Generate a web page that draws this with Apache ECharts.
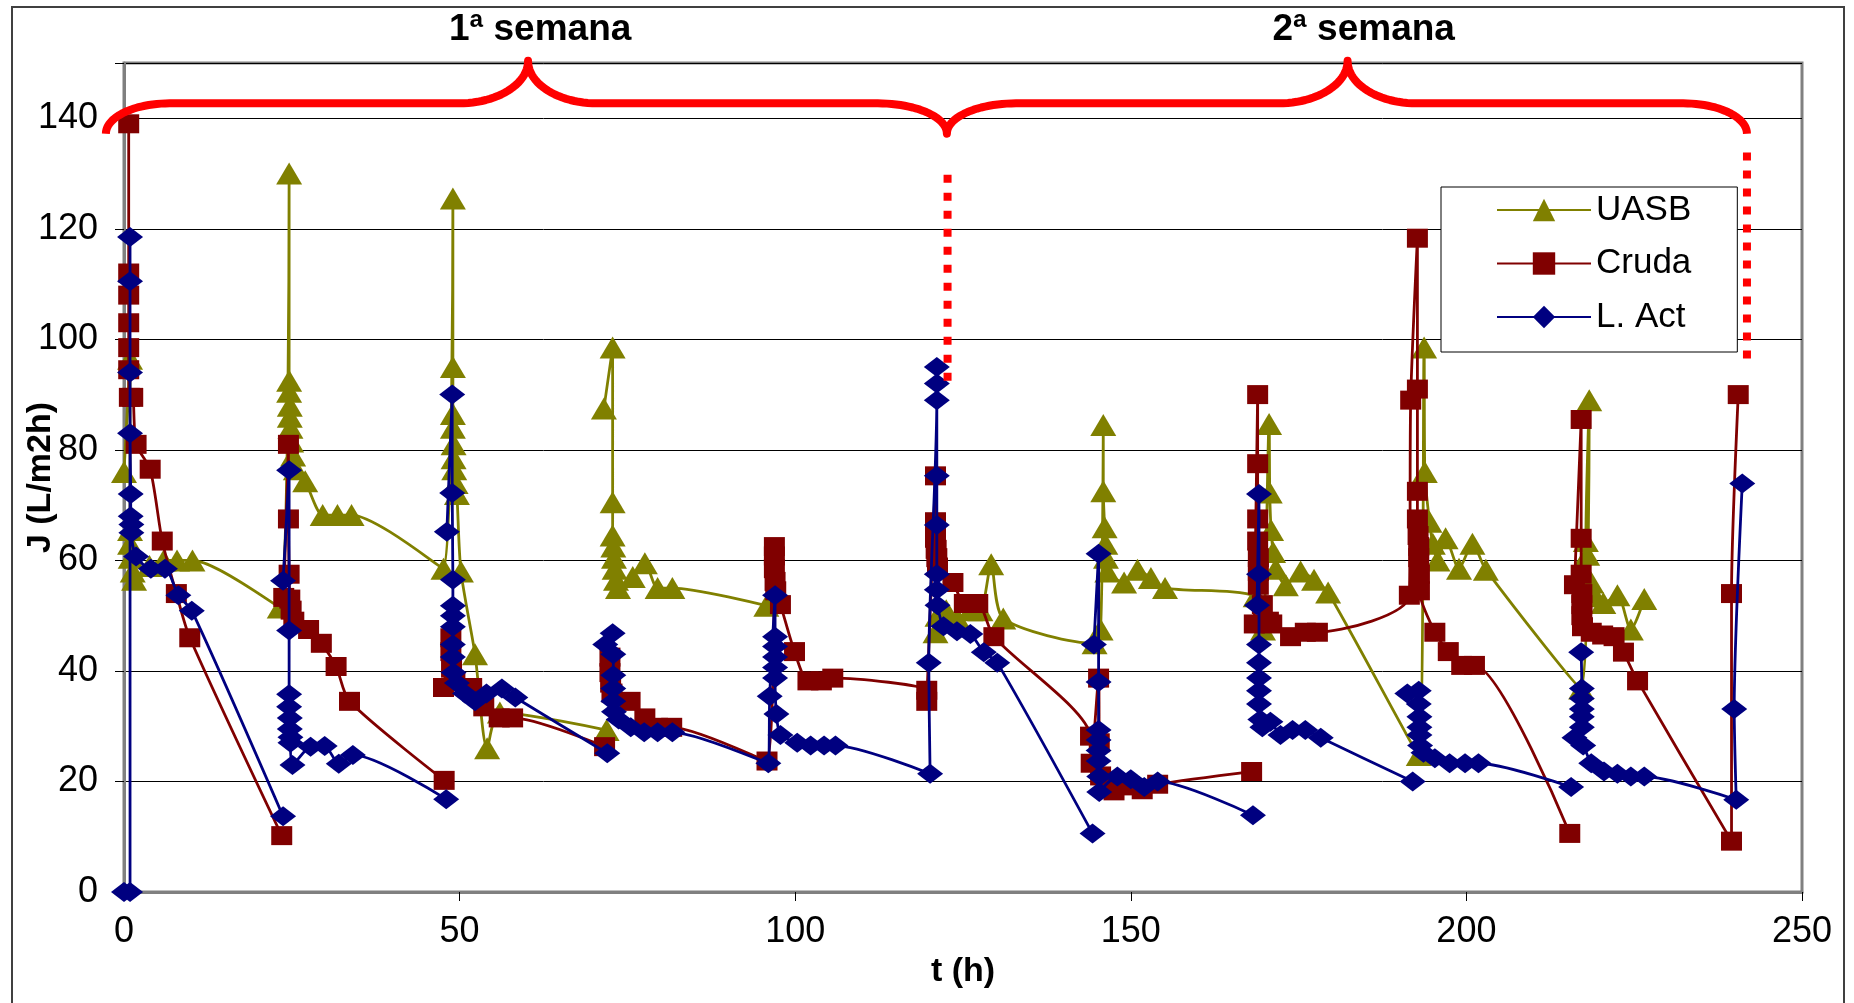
<!DOCTYPE html>
<html>
<head>
<meta charset="utf-8">
<script src="https://cdn.jsdelivr.net/npm/echarts@6/dist/echarts.min.js"></script>
<style>
  html, body { margin: 0; padding: 0; background: #fff; }
  #chart { width: 1854px; height: 1003px; }
</style>
</head>
<body>
<div id="chart"></div>
<script>
// Flux J (L/m2h) vs time t (h) for three feeds; null marks a break between filtration runs.
const seriesNames = ['UASB', 'Cruda', 'L. Act'];

const uasb = [
  [0, 76], [0.9, 96.5], [0.9, 65.5], [0.9, 63], [1.0, 60.5], [1.3, 58], [1.5, 56.5], [3.8, 59], [5.9, 60], [7.9, 60], [10.2, 60], [23.2, 51.5],
  [24.6, 130], [24.6, 92.5], [24.6, 90.5], [24.7, 88], [24.7, 86], [24.8, 84], [24.9, 81.5], [25.2, 79], [25.6, 76.5], [27.0, 74.3], [29.6, 68.2], [31.8, 68.2], [33.9, 68.2], [47.6, 58.5],
  [49.0, 125.5], [49.0, 95], [49.0, 86.5], [49.0, 84], [49.1, 81], [49.1, 78.5], [49.2, 76.5], [49.4, 74], [49.6, 72], [50.2, 58], [52.3, 43], [54.1, 26], [56.0, 32.5], [71.9, 29.3],
  null,
  [71.5, 87.5], [72.8, 98.5], [72.8, 70.5], [72.8, 64.5], [72.9, 62.5], [73.0, 60.5], [73.1, 58.5], [73.3, 56.5], [73.6, 55], [75.8, 57], [77.6, 59.5], [79.5, 55], [81.7, 55], [95.7, 51.8],
  null,
  [120.9, 47], [121.2, 50], [122.5, 51], [124.2, 49.5], [126.1, 51], [127.6, 51], [129.2, 59.3], [131.0, 49.5], [144.6, 45],
  [145.5, 47.5], [145.9, 84.5], [145.9, 72.5], [146.1, 66], [146.2, 63], [146.3, 60.5], [146.5, 58], [149.0, 56], [151.0, 58.3], [153.0, 56.8], [155.1, 55], [168.6, 53.5],
  [169.7, 47.5], [170.6, 84.7], [170.7, 72.3], [170.9, 65.5], [171.2, 61.5], [171.6, 58.5], [173.1, 55.5], [175.3, 58], [177.3, 56.5], [179.4, 54.2], [192.9, 24.8],
  [193.7, 98.5], [193.8, 76], [194.5, 67], [195.0, 63], [195.7, 60], [196.9, 64], [198.9, 58.5], [200.9, 63], [202.9, 58.3], [217.1, 36.8],
  [218.3, 89], [217.8, 63.5], [218.0, 61], [218.6, 56], [219.2, 53.5], [220.4, 52.3], [222.5, 53.7], [224.5, 47.5], [226.5, 53]
];

const cruda = [
  [0.7, 139], [0.7, 112], [0.7, 108], [0.7, 103], [0.7, 98.5], [0.7, 94.5], [0.8, 89.5], [1.3, 89.5], [1.8, 81], [3.9, 76.5], [5.7, 63.5], [7.8, 54], [9.8, 46], [23.5, 10.2],
  null,
  [23.8, 53.3], [24.5, 81], [24.5, 67.5], [24.6, 57.5], [24.7, 53], [24.9, 51], [25.3, 49], [27.5, 47.5], [29.4, 45], [31.6, 40.8], [33.6, 34.5], [47.7, 20.2],
  null,
  [47.6, 37], [48.7, 46], [48.7, 43.5], [48.8, 40.5], [49.3, 38], [51.8, 37], [53.6, 33.5], [55.9, 31.5], [57.9, 31.5], [71.6, 26.3],
  null,
  [72.4, 42.5], [72.4, 39.7], [72.5, 37.8], [72.7, 36], [75.4, 34.5], [77.6, 31.5], [79.5, 29.8], [81.6, 29.8], [95.8, 23.7],
  [96.9, 62.5], [96.9, 60.8], [96.9, 58.5], [97.0, 56.2], [97.1, 54.5], [97.8, 52], [99.9, 43.5], [101.9, 38.2], [103.9, 38.2], [105.6, 38.7], [119.6, 36.5], [119.6, 34.5],
  [120.9, 75.3], [120.9, 67], [120.9, 64], [121.0, 62], [121.1, 60.5], [121.2, 58.8], [123.5, 56], [125.2, 52.2], [127.2, 52.2], [129.6, 46.2], [144.0, 28.2],
  [144.1, 23.3], [145.2, 38.7], [145.3, 27], [145.5, 21], [147.5, 18.3], [149.8, 19.2], [151.7, 18.5], [154.0, 19.5], [168.0, 21.8],
  null,
  [168.4, 48.5], [168.9, 90], [168.9, 77.5], [168.9, 67.5], [168.9, 63.5], [169.0, 60.5], [169.0, 58], [169.0, 55.5], [169.6, 52], [170.5, 49], [171.0, 48.5], [173.8, 46.2], [176.0, 47], [177.8, 47], [191.5, 53.7],
  [191.7, 89], [192.7, 118.3], [192.7, 91], [192.7, 72.5], [192.7, 67.5], [192.8, 64.5], [192.9, 62.5], [192.9, 60.5], [193.0, 57.5], [193.0, 54.5], [195.3, 47], [197.3, 43.5], [199.3, 41], [201.2, 41], [215.4, 10.6],
  null,
  [216.1, 55.6], [217.1, 85.5], [217.1, 64], [217.1, 57.5], [217.2, 54], [217.2, 52], [217.2, 50], [217.3, 48], [218.6, 47], [220.3, 46.5], [222.0, 46.2], [223.4, 43.4], [225.5, 38.2], [239.5, 9.2], [239.5, 54], [240.5, 90]
];

const lAct = [
  [0, 0], [0.9, 0], [0.9, 118.5], [0.9, 110.5], [0.9, 94], [0.9, 83], [1.0, 72], [1.0, 68], [1.1, 66.5], [1.1, 65], [1.8, 60.7], [4.0, 58.5], [6.1, 58.5], [8.1, 53.7], [10.1, 50.9], [23.7, 13.7],
  null,
  [23.7, 56.3], [24.6, 76.3], [24.6, 47.3], [24.6, 35.8], [24.6, 33.5], [24.7, 31.5], [24.7, 29.5], [24.8, 28], [24.8, 27], [25.1, 23], [27.8, 26.3], [29.9, 26.4], [32.0, 23.2], [34.1, 24.8], [48.0, 16.8],
  null,
  [48.1, 65.2], [48.9, 90], [48.9, 72.2], [49.0, 56.5], [49.0, 51.8], [49.0, 50], [49.0, 48], [49.0, 44.8], [49.0, 42.5], [49.1, 39.7], [49.6, 37.8], [50.8, 35.9], [52.3, 34.5], [54.0, 35.9], [56.3, 36.8], [58.3, 35.2], [72.0, 25.1],
  null,
  [71.7, 44.8], [72.8, 46.8], [72.9, 43], [72.9, 39.2], [72.9, 36.8], [72.9, 34.5], [73.0, 32.6], [73.7, 31.2], [75.5, 29.8], [77.5, 28.9], [79.5, 28.9], [81.7, 28.9], [96.0, 23.3],
  [96.2, 35.4], [97.0, 53.7], [97.0, 46.2], [97.0, 44.4], [97.0, 42.5], [97.0, 40.6], [97.0, 38.7], [97.2, 32.2], [97.8, 28.4], [100.3, 27], [102.3, 26.5], [104.3, 26.5], [106.0, 26.5], [120.1, 21.4],
  [119.9, 41.5], [121.1, 89], [121.1, 92], [121.1, 95], [121.1, 75.3], [121.1, 66.4], [121.1, 57.5], [121.1, 54.7], [121.2, 51.9], [122.1, 48.1], [124.1, 47.2], [126.1, 46.7], [128.1, 43.4], [130.1, 41.5], [144.3, 10.6],
  null,
  [144.5, 44.8], [145.2, 61.2], [145.2, 38], [145.2, 29.3], [145.2, 27.5], [145.2, 25.6], [145.2, 23.7], [145.3, 20.9], [145.3, 18.1], [148.0, 20.9], [150.0, 20.4], [152.0, 19], [154.0, 20], [168.2, 13.9],
  null,
  [168.8, 51.9], [169.1, 72], [169.1, 57.5], [169.1, 44.8], [169.1, 41.5], [169.1, 38.7], [169.1, 36.4], [169.1, 34], [169.3, 31.2], [169.6, 29.8], [170.8, 30.8], [172.3, 28.4], [174.1, 29.3], [176.0, 29.3], [178.3, 27.9], [192.0, 20],
  null,
  [191.2, 35.9], [192.9, 36.4], [192.9, 34], [193.0, 31.7], [193.0, 29.8], [193.0, 28.4], [193.1, 26.5], [193.6, 25.2], [195.3, 24.2], [197.5, 23.3], [199.8, 23.3], [201.8, 23.3], [215.6, 19],
  null,
  [217.1, 43.4], [217.2, 36.8], [217.2, 35], [217.2, 33.1], [217.2, 31.7], [217.2, 29.8], [216.1, 27.9], [217.4, 26.5], [218.6, 23.3], [220.5, 21.8], [222.5, 21.4], [224.5, 20.9], [226.5, 20.9], [240.2, 16.7], [239.9, 33.1], [241.1, 73.9]
];

// Axis ranges and tick steps
const tRange = [0, 250];
const tStep = 50;
const jRange = [0, 150];
const jStep = 20;

// Week annotation: brace ends / cusp and label positions, in (t, J) units
const weekLabels = ['1ª semana', '2ª semana'];
const weekLabelT = [62, 184.7];
const braceEndT = [-2.7, 122.6, 241.8];
const bracePeakT = [60.2, 182.3];
const dividerT = [122.7, 241.8];
const dividerSpans = [[129.8, 92.3], [133.8, 96.1]];

const FONT = 'Liberation Sans, Arial, sans-serif';
const colors = ['#808000', '#800000', '#000080'];
const symbols = ['triangle', 'rect', 'diamond'];
const symbolSizes = [[26, 22], [21, 19], [26, 20]];

const gapToEmpty = arr => arr.map(p => (p === null ? ['-', '-'] : p));

const chart = echarts.init(document.getElementById('chart'), null, { renderer: 'canvas' });

chart.setOption({
  animation: false,
  backgroundColor: '#fff',
  textStyle: { fontFamily: FONT, color: '#000' },
  grid: {
    left: 124, right: 52, top: 63, bottom: 111,
    outerBoundsMode: 'none', containLabel: false,
    show: true, borderColor: '#808080', borderWidth: 3, backgroundColor: '#fff'
  },
  legend: {
    data: seriesNames,
    orient: 'vertical',
    left: 1441, top: 187,
    padding: [5, 46, 17, 55],
    itemWidth: 94, itemHeight: 28, itemGap: 17.5,
    backgroundColor: '#fff', borderColor: '#000', borderWidth: 1,
    textStyle: { fontSize: 35, lineHeight: 36, color: '#000', fontFamily: FONT }
  },
  xAxis: {
    type: 'value', min: tRange[0], max: tRange[1], interval: tStep,
    name: 't (h)', nameLocation: 'middle', nameGap: 62,
    nameTextStyle: { fontSize: 34, fontWeight: 'bold', color: '#000', fontFamily: FONT },
    axisLine: { show: true, lineStyle: { color: '#808080', width: 3 } },
    axisTick: { show: true, inside: false, length: 9, lineStyle: { color: '#000', width: 1 } },
    axisLabel: { fontSize: 36, color: '#000', margin: 22, fontFamily: FONT },
    splitLine: { show: false }
  },
  yAxis: {
    type: 'value', min: jRange[0], max: jRange[1], interval: jStep,
    name: 'J (L/m2h)', nameLocation: 'middle', nameGap: 66, nameMoveOverlap: false,
    nameTextStyle: { fontSize: 34, fontWeight: 'bold', color: '#000', fontFamily: FONT },
    axisLine: { show: true, lineStyle: { color: '#808080', width: 3 } },
    axisTick: { show: true, inside: false, length: 9, lineStyle: { color: '#000', width: 1 } },
    axisLabel: {
      fontSize: 36, color: '#000', margin: 26, fontFamily: FONT,
      formatter: v => (v % jStep === 0 ? String(v) : '')
    },
    splitLine: { show: true, lineStyle: { color: '#000', width: 1 } }
  },
  series: [uasb, cruda, lAct].map((data, i) => ({
    name: seriesNames[i],
    type: 'line',
    data: gapToEmpty(data),
    connectNulls: false,
    smooth: 0.25,
    symbol: symbols[i],
    symbolSize: symbolSizes[i],
    showAllSymbol: true,
    lineStyle: { color: colors[i], width: 2.8 },
    itemStyle: { color: colors[i], borderWidth: 0 },
    emphasis: { disabled: true },
    z: 2 + i
  }))
});

// Curly brace and dotted dividers above the plot, placed from (t, J) values
const px = (t, j) => chart.convertToPixel({ gridIndex: 0 }, [t, j]);
const K = 0.5523;
const J_BASE = 142.7, J_PEAK = 150.4, J_TIP = 137.2;
const END_W = 9.5, CUSP_W = 10.3;

function sampleBezier(p0, c1, c2, p3, out) {
  const n = 24;
  for (let k = 1; k <= n; k++) {
    const s = k / n, r = 1 - s;
    out.push([
      r * r * r * p0[0] + 3 * r * r * s * c1[0] + 3 * r * s * s * c2[0] + s * s * s * p3[0],
      r * r * r * p0[1] + 3 * r * r * s * c1[1] + 3 * r * s * s * c2[1] + s * s * s * p3[1]
    ]);
  }
}
// horizontal tangent at a, vertical tangent at b
function hv(a, b, out) {
  sampleBezier(a, [a[0] + K * (b[0] - a[0]), a[1]], [b[0], b[1] + K * (a[1] - b[1])], b, out);
}
// vertical tangent at a, horizontal tangent at b
function vh(a, b, out) {
  sampleBezier(a, [a[0], a[1] + K * (b[1] - a[1])], [b[0] + K * (a[0] - b[0]), b[1]], b, out);
}

function bracePoints() {
  const pts = [];
  const p0 = px(braceEndT[0], J_TIP);
  const p1 = px(braceEndT[0] + END_W, J_BASE);
  pts.push(p0);
  vh(p0, p1, pts);
  const cusp = (t, jTip) => {
    const a = px(t - CUSP_W, J_BASE), m = px(t, jTip), b = px(t + CUSP_W, J_BASE);
    pts.push(a);
    hv(a, m, pts);
    vh(m, b, pts);
  };
  cusp(bracePeakT[0], J_PEAK);
  cusp(braceEndT[1], J_TIP);
  cusp(bracePeakT[1], J_PEAK);
  const q0 = px(braceEndT[2] - END_W, J_BASE);
  const q1 = px(braceEndT[2], J_TIP);
  pts.push(q0);
  hv(q0, q1, pts);
  return pts;
}

const graphics = [
  {
    type: 'rect', z: -10, silent: true,
    shape: { x: 12, y: 7, width: 1832, height: 1010 },
    style: { fill: 'none', stroke: '#404040', lineWidth: 2 }
  },
  {
    type: 'polyline', z: 100, silent: true,
    shape: { points: bracePoints() },
    style: { fill: 'none', stroke: '#ff0000', lineWidth: 8, lineCap: 'butt', lineJoin: 'round' }
  }
];
dividerT.forEach((t, i) => {
  const a = px(t, dividerSpans[i][0]);
  const b = px(t, dividerSpans[i][1]);
  graphics.push({
    type: 'line', z: 100, silent: true,
    shape: { x1: a[0], y1: a[1], x2: b[0], y2: b[1] },
    style: { stroke: '#ff0000', lineWidth: 8, lineDash: [8, 10], lineCap: 'butt' }
  });
});
weekLabels.forEach((label, i) => {
  const c = px(weekLabelT[i], 156);
  graphics.push({
    type: 'text', z: 100, silent: true,
    x: c[0], y: c[1],
    style: {
      text: label, fill: '#000', fontFamily: FONT, fontWeight: 'bold', fontSize: 37,
      align: 'center', verticalAlign: 'middle'
    }
  });
});

chart.setOption({ graphic: graphics });
</script>
</body>
</html>
